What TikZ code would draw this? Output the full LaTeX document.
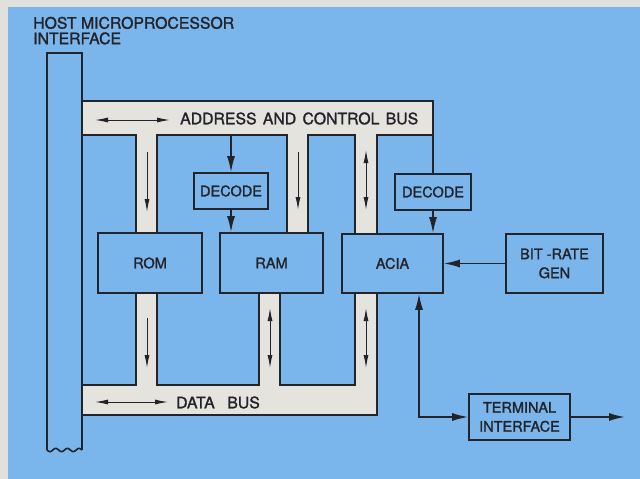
\documentclass[tikz,border=0pt]{standalone}
\usepackage{fontspec}
\setmainfont{TeX Gyre Heros}[FakeBold=1.5]
\usetikzlibrary{arrows.meta}
\definecolor{bg}{RGB}{122,182,236}
\definecolor{busfill}{RGB}{228,227,221}
\definecolor{framecol}{RGB}{224,224,220}
\definecolor{ink}{RGB}{35,35,42}
\begin{document}
\begin{tikzpicture}[x=1pt,y=-1pt,
  lbl/.style={font=\fontsize{15.8}{17}\selectfont,text=ink,inner sep=0pt},
  box/.style={draw=ink,line width=1.6pt,inner sep=0pt,align=center,text=ink,
    font=\fontsize{14.5}{19}\selectfont},
  outline/.style={draw=ink,line width=1.6pt},
  conn/.style={draw=ink,line width=1.6pt,-{Latex[length=16pt,width=8pt]}},
  connboth/.style={draw=ink,line width=1.6pt,{Latex[length=16pt,width=8pt]}-{Latex[length=16pt,width=8pt]}},
  busarrow/.style={draw=ink,line width=1pt,-{Latex[length=13pt,width=5pt]}},
  busboth/.style={draw=ink,line width=1pt,{Latex[length=13pt,width=5pt]}-{Latex[length=13pt,width=5pt]}}]
% background
\fill[framecol] (0,0) rectangle (640,479);
\fill[bg] (8,7) rectangle (640,479);
\useasboundingbox (0,0) rectangle (640,479);
% bus fills
\fill[busfill] (82,101) rectangle (433,135);
\fill[busfill] (136,135) rectangle (157,233);
\fill[busfill] (287,135) rectangle (308,233);
\fill[busfill] (355,135) rectangle (377,234);
\fill[busfill] (82,385) rectangle (377,415);
\fill[busfill] (136,293) rectangle (157,385);
\fill[busfill] (259,293) rectangle (280,385);
\fill[busfill] (355,293) rectangle (377,385);
% boxes
\node[box,minimum width=104pt,minimum height=60pt] (rom) at (150,263) {ROM};
\node[box,minimum width=103pt,minimum height=60pt] (ram) at (271.5,263) {RAM};
\node[box,minimum width=101pt,minimum height=59pt] (acia) at (392.5,263.5) {ACIA};
\node[box,minimum width=97pt,minimum height=59pt] (brg) at (554.5,263.5) {BIT -RATE\\GEN};
\node[box,minimum width=74pt,minimum height=36pt] (dec1) at (231,191) {DECODE};
\node[box,minimum width=76pt,minimum height=36pt] (dec2) at (433,192) {DECODE};
\node[box,minimum width=101pt,minimum height=46pt] (term) at (519.5,417) {TERMINAL\\INTERFACE};
% host bar
\draw[outline] (82,450) -- (82,53) -- (47,53) -- (47,450);
\draw[outline] plot[smooth,domain=0:35,samples=60] ({47+\x},{450+1.6*sin(30.857*\x)});
% address bus outline
\draw[outline] (82,101) -- (433,101) -- (dec2.north);
\draw[outline] (82,135) -- (136,135) -- (136,233);
\draw[outline] (157,233) -- (157,135) -- (287,135) -- (287,233);
\draw[outline] (308,233) -- (308,135) -- (355,135) -- (355,234);
\draw[outline] (377,234) -- (377,135) -- (433,135);
% data bus outline
\draw[outline] (82,385) -- (136,385) -- (136,293);
\draw[outline] (157,293) -- (157,385) -- (259,385) -- (259,293);
\draw[outline] (280,293) -- (280,385) -- (355,385) -- (355,293);
\draw[outline] (377,293) -- (377,415) -- (82,415);
% labels
\node[lbl,anchor=west] (hosttxt) at (33,33) {\begin{tabular}{@{}l@{}}HOST MICROPROCESSOR\\[-1.5pt]INTERFACE\end{tabular}};
\node[lbl,anchor=west] (addrtxt) at (180,118.5) {ADDRESS\hspace{0.4em}AND\hspace{0.4em}CONTROL\hspace{0.4em}BUS};
\node[lbl,anchor=west] (datatxt) at (176,402.5) {DATA\hspace{0.8em}BUS};
% bus arrows
\coordinate (a1) at (95,120); \coordinate (a2) at (170,120);
\draw[busboth] (a1) -- (a2);
\coordinate (r1) at (147,152); \coordinate (r2) at (147,212);
\draw[busarrow] (r1) -- (r2);
\coordinate (s1) at (298,152); \coordinate (s2) at (298,210);
\draw[busarrow] (s1) -- (s2);
\coordinate (c1) at (366,150); \coordinate (c2) at (366,210);
\draw[busboth] (c1) -- (c2);
\coordinate (r3) at (147,318); \coordinate (r4) at (147,368);
\draw[busarrow] (r3) -- (r4);
\coordinate (m1) at (270,308); \coordinate (m2) at (270,368);
\draw[busboth] (m1) -- (m2);
\coordinate (c3) at (366,308); \coordinate (c4) at (366,368);
\draw[busboth] (c3) -- (c4);
\coordinate (d1) at (95,402); \coordinate (d2) at (168,402);
\draw[busboth] (d1) -- (d2);
% connectors
\coordinate (ab1) at (231,135);
\draw[conn] (ab1) -- (dec1.north);
\draw[conn] (dec1.south) -- (dec1.south |- ram.north);
\draw[conn] (dec2.south) -- (dec2.south |- acia.north);
\draw[conn] (brg.west) -- (acia.east |- brg.west);
\coordinate (ac) at (419,293);
\draw[connboth] (ac |- acia.south) |- (term.west);
\coordinate (out) at (625,417);
\draw[conn] (term.east) -- (out);
\end{tikzpicture}
\end{document}
